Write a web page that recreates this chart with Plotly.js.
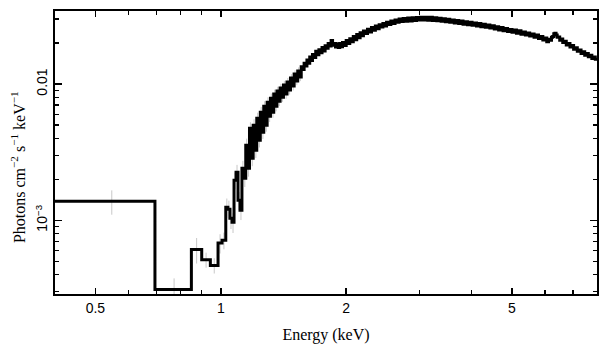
<!DOCTYPE html>
<html>
<head>
<meta charset="utf-8">
<script src="https://cdn.plot.ly/plotly-3.0.1.min.js"></script>
<style>html,body{margin:0;padding:0;background:#fff;}#chart{width:609px;height:357px;}</style>
</head>
<body>
<div id="chart"></div>
<script>
// Low-energy wide bins: left edges (keV), flux (photons cm^-2 s^-1 keV^-1), errors
const lowEdges = [0.4, 0.695, 0.85, 0.9, 0.944, 0.985, 1.007];
const lowFlux  = [0.00138, 0.000311, 0.000612, 0.000514, 0.000467, 0.000681, 0.000713];
const lowErr   = [0.00028, 0.000064, 0.00013, 0.000065, 0.00006, 0.00011, 0.0001];

// Fine bins 1.03-1.56 keV
const edgesA = [1.028,1.040,1.052,1.064,1.076,1.088,1.100,1.112,1.124,1.136,1.148,1.160,1.172,1.184,1.196,1.208,1.220,1.232,1.244,1.256,1.268,1.280,1.292,1.304,1.316,1.328,1.340,1.352,1.364,1.376,1.388,1.400,1.414,1.428,1.442,1.456,1.470,1.485,1.500,1.515,1.530,1.545];
const fluxA  = [0.001246,0.001205,0.001034,0.000967,0.001968,0.002254,0.001403,0.001185,0.002412,0.002036,0.003559,0.002412,0.004748,0.002857,0.004994,0.003271,0.005623,0.003875,0.006223,0.004437,0.006891,0.004994,0.007373,0.005816,0.007889,0.006223,0.008443,0.006891,0.008882,0.007499,0.009346,0.008024,0.009832,0.008443,0.010344,0.009035,0.011068,0.009667,0.011844,0.010521,0.012462,0.011258];
const errA   = [0.00020,0.00019,0.00017,0.00016,0.00028,0.00030,0.00021,0.00018,0.00032,0.00028,0.00042,0.00032,0.00050,0.00036,0.00052,0.00040,0.00055,0.00045,0.00058,0.00048,0.00060,0.00052,0.00062,0.00055,0.00064,0.00056,0.00066,0.00058,0.00068,0.00060,0.00070,0.00062,0.00072,0.00064,0.00074,0.00066,0.00076,0.00068,0.00078,0.00070,0.00080,0.00074];

// Fine bins 1.56-2.74 keV
const edgesB = [1.56,1.572,1.585,1.597,1.61,1.622,1.635,1.647,1.66,1.675,
                1.69,1.705,1.72,1.735,1.75,1.765,1.78,1.795,1.81,1.825,
                1.84,1.855,1.87,1.885,1.90,1.915,1.93,1.945,1.96,1.98,
                2.00,2.02,2.04,2.06,2.08,2.10,2.12,2.14,2.16,2.18,
                2.20,2.225,2.25,2.275,2.30,2.325,2.35,2.375,2.40,2.425,
                2.45,2.475,2.50,2.53,2.56,2.59,2.62,2.65,2.68,2.71];
const fluxB  = [0.0134,0.0128,0.0142,0.0136,0.0150,0.0142,0.0158,0.0149,0.0165,0.0157,
                0.0174,0.0164,0.0179,0.0170,0.0186,0.0175,0.0191,0.0183,0.0199,0.0190,
                0.0209,0.0193,0.0199,0.0187,0.0198,0.0186,0.0199,0.0188,0.0202,0.0192,
                0.0209,0.0199,0.0215,0.0205,0.0224,0.0212,0.0231,0.0219,0.0238,0.0226,
                0.0245,0.0235,0.0253,0.0241,0.0260,0.0248,0.0267,0.0255,0.0273,0.0262,
                0.0279,0.0267,0.0285,0.0274,0.0291,0.0279,0.0296,0.0284,0.0300,0.0288];

// Fine bins 2.74-8 keV
const edgesC = [2.74,2.775,2.81,2.845,2.88,2.915,2.95,2.985,3.02,3.06,
                3.10,3.14,3.18,3.22,3.26,3.30,3.34,3.38,3.42,3.46,
                3.50,3.545,3.59,3.635,3.68,3.725,3.77,3.815,3.86,3.91,
                3.96,4.01,4.06,4.11,4.16,4.21,4.26,4.315,4.37,4.425,
                4.48,4.535,4.59,4.645,4.70,4.76,4.82,4.88,4.94,5.00,
                5.06,5.125,5.19,5.255,5.32,5.385,5.45,5.515,5.58,5.65,
                5.72,5.79,5.86,5.93,6.00,6.06,6.12,6.17,6.22,6.26,
                6.30,6.34,6.38,6.42,6.46,6.51,6.56,6.62,6.68,6.75,
                6.82,6.89,6.96,7.03,7.10,7.175,7.25,7.325,7.40,7.475,
                7.55,7.625,7.70,7.775,7.85,7.925];
const fluxC  = [0.0303,0.0289,0.0305,0.0291,0.0307,0.0293,0.0308,0.0295,0.0310,0.0295,
                0.0309,0.0294,0.0309,0.0293,0.0307,0.0292,0.0304,0.0289,0.0302,0.0287,
                0.0299,0.0284,0.0296,0.0281,0.0293,0.0278,0.0290,0.0275,0.0287,0.0273,
                0.0284,0.0270,0.0281,0.0267,0.0278,0.0264,0.0275,0.0261,0.0271,0.0258,
                0.0268,0.0254,0.0264,0.0250,0.0260,0.0246,0.0256,0.0243,0.0252,0.0240,
                0.0249,0.0236,0.0246,0.0232,0.0241,0.0229,0.0237,0.0225,0.0233,0.0221,
                0.0229,0.0216,0.0224,0.0211,0.0218,0.0205,0.0213,0.0210,0.0221,0.0224,
                0.0234,0.0236,0.0229,0.0221,0.0222,0.0210,0.0214,0.0202,0.0206,0.0194,
                0.0199,0.0187,0.0192,0.0180,0.0185,0.0174,0.0178,0.0168,0.0173,0.0163,
                0.0168,0.0159,0.0163,0.0154,0.0158,0.0152];
const lastEdge = 8.0;

const xTickVals = [0.5, 1, 2, 5];
const xTickText = ['0.5', '1', '2', '5'];
const xMinorVals = [0.4, 0.6, 0.7, 0.8, 0.9, 3, 4, 6, 7, 8];
const yTickVals = [0.001, 0.01];
const yTickText = ['10<sup>\u22123</sup>', '0.01'];
const yMinorVals = [0.0003,0.0004,0.0005,0.0006,0.0007,0.0008,0.0009,0.002,0.003,0.004,0.005,0.006,0.007,0.008,0.009,0.02,0.03];
const yTitle = 'Photons cm<sup>\u22122</sup> s<sup>\u22121</sup> keV<sup>\u22121</sup>';
const xTitle = 'Energy (keV)';

// Build step arrays
const edges = lowEdges.concat(edgesA, edgesB, edgesC);
const flux = lowFlux.concat(fluxA, fluxB, fluxC);
const stepX = edges.concat([lastEdge]);
const stepY = flux.concat([flux[flux.length - 1]]);

// Error bars at bin centres
const rights = edges.slice(1).concat([lastEdge]);
const errAll = lowErr.concat(errA);
const errX = [], errY = [];
for (let i = 0; i < errAll.length; i++) {
  errX.push((edges[i] + rights[i]) / 2);
  errY.push(flux[i]);
}

const serif = 'Liberation Serif, Times New Roman, serif';
const sans = 'Liberation Sans, Arial, sans-serif';

const traces = [
  {
    x: errX, y: errY, type: 'scatter', mode: 'markers',
    marker: {size: 0.1, color: 'rgba(0,0,0,0)'},
    error_y: {type: 'data', array: errAll, visible: true, color: '#c8c8c8', thickness: 1, width: 0},
    hoverinfo: 'skip', showlegend: false
  },
  {
    x: stepX, y: stepY, type: 'scatter', mode: 'lines',
    line: {shape: 'hv', color: '#000', width: 3},
    showlegend: false
  }
];

const layout = {
  width: 609, height: 357,
  margin: {l: 55, r: 12, t: 11, b: 63},
  paper_bgcolor: '#fff', plot_bgcolor: '#fff',
  showlegend: false,
  xaxis: {
    type: 'log',
    range: [Math.log10(0.4), Math.log10(8.0)],
    tickmode: 'array', tickvals: xTickVals, ticktext: xTickText,
    ticks: 'inside', ticklen: 6, tickwidth: 1.5, tickcolor: '#000',
    minor: {tickmode: 'array', tickvals: xMinorVals, ticks: 'inside', ticklen: 4, tickwidth: 1.5, tickcolor: '#000', showgrid: false},
    showline: true, linecolor: '#000', linewidth: 2, mirror: 'ticks',
    showgrid: false, zeroline: false,
    tickfont: {family: sans, size: 14, color: '#000'},
    title: {text: xTitle, font: {family: serif, size: 16, color: '#000'}, standoff: 14}
  },
  yaxis: {
    type: 'log',
    range: [Math.log10(0.000288), Math.log10(0.0344)],
    tickmode: 'array', tickvals: yTickVals, ticktext: yTickText,
    tickangle: -90,
    ticks: 'inside', ticklen: 7, tickwidth: 1.5, tickcolor: '#000',
    minor: {tickmode: 'array', tickvals: yMinorVals, ticks: 'inside', ticklen: 4, tickwidth: 1.5, tickcolor: '#000', showgrid: false},
    showline: true, linecolor: '#000', linewidth: 2, mirror: 'ticks',
    showgrid: false, zeroline: false,
    tickfont: {family: sans, size: 14, color: '#000'}
  },
  annotations: [{
    text: yTitle, textangle: -90, showarrow: false,
    xref: 'paper', yref: 'paper', x: -0.068, y: 0.449,
    xanchor: 'center', yanchor: 'middle',
    font: {family: serif, size: 16, color: '#000'}
  }]
};

Plotly.newPlot('chart', traces, layout, {staticPlot: true, displayModeBar: false});
</script>
</body>
</html>
